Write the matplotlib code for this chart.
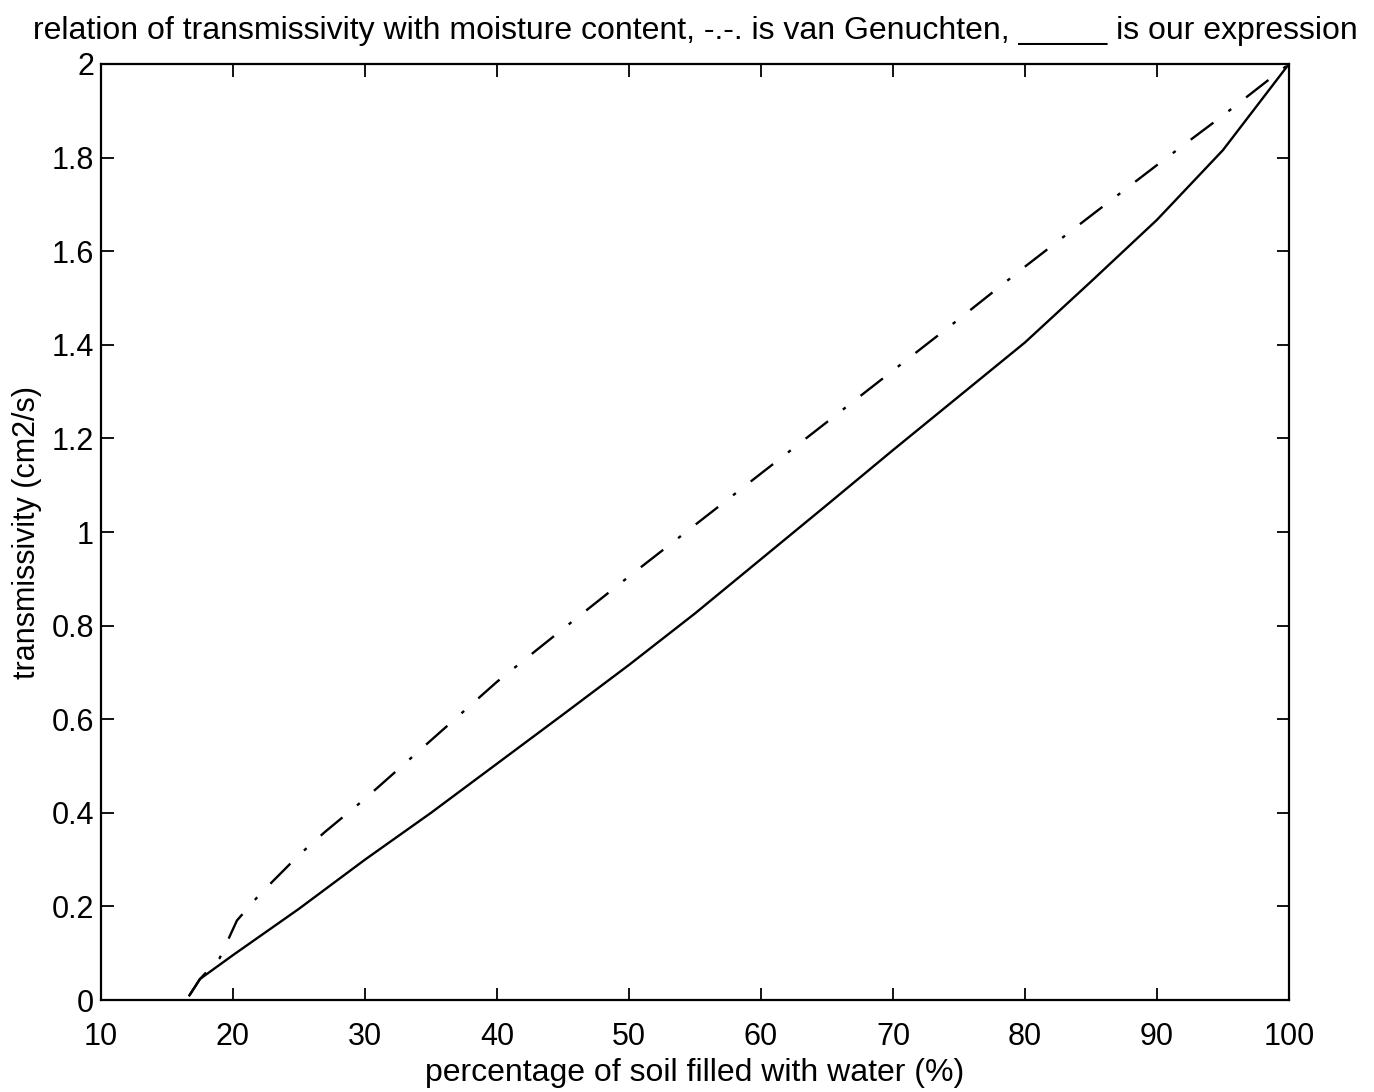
import matplotlib.pyplot as plt

plt.rcParams['font.family'] = ['Liberation Sans', 'DejaVu Sans']

# water filled percentage and transmissivity values
pct_ours = [16.7, 17.5, 20, 25, 30, 35, 40, 45, 50, 55, 60, 65, 70, 75, 80, 85, 90, 95, 100]
trans_ours = [0.01, 0.045, 0.096, 0.195, 0.30, 0.40, 0.505, 0.61, 0.716, 0.826, 0.942,
              1.058, 1.175, 1.29, 1.405, 1.535, 1.667, 1.816, 2.0]

pct_vg = [16.7, 17.5, 19, 20.3, 22, 25, 27, 30, 35, 40, 45, 50, 55, 60, 65, 70, 75, 80,
          85, 90, 95, 100]
trans_vg = [0.01, 0.045, 0.09, 0.17, 0.225, 0.31, 0.36, 0.43, 0.555, 0.68, 0.793, 0.905,
            1.015, 1.125, 1.235, 1.345, 1.455, 1.567, 1.676, 1.784, 1.89, 2.0]

x_ticks = [10, 20, 30, 40, 50, 60, 70, 80, 90, 100]
y_ticks = [0, 0.2, 0.4, 0.6, 0.8, 1, 1.2, 1.4, 1.6, 1.8, 2]
y_labels = ['0', '0.2', '0.4', '0.6', '0.8', '1', '1.2', '1.4', '1.6', '1.8', '2']

fig = plt.figure(figsize=(13.74, 10.92), dpi=100)
ax = fig.add_axes([0.0735, 0.0842, 0.8646, 0.8572])

ax.plot(pct_vg, trans_vg, color='black', lw=1.7, linestyle=(0, (12, 8, 1.5, 8)))
ax.plot(pct_ours, trans_ours, color='black', lw=1.7)

ax.set_xlim(10, 100)
ax.set_ylim(0, 2)
ax.set_xticks(x_ticks)
ax.set_yticks(y_ticks)
ax.set_yticklabels(y_labels)
ax.tick_params(direction='in', length=9, width=1.3, top=True, right=True, labelsize=22)
ax.tick_params(axis='x', pad=16)
ax.tick_params(axis='y', pad=5)
for s in ax.spines.values():
    s.set_linewidth(1.6)

ax.set_title('relation of transmissivity with moisture content, -.-. is van Genuchten, _____ is our expression',
             fontsize=23, pad=18)
ax.set_xlabel('percentage of soil filled with water (%)', fontsize=23, labelpad=4)
ax.set_ylabel('transmissivity (cm2/s)', fontsize=22, labelpad=7)

fig.savefig('out.png', dpi=100)
